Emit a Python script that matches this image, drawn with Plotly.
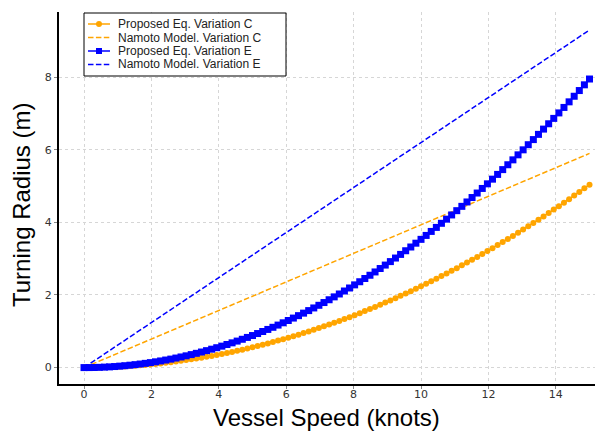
import plotly.graph_objects as go

speed = [0, 0.152, 0.303, 0.455, 0.606, 0.758, 0.909, 1.061, 1.212, 1.364,
         1.515, 1.667, 1.818, 1.970, 2.121, 2.273, 2.424, 2.576, 2.727, 2.879,
         3.030, 3.182, 3.333, 3.485, 3.636, 3.788, 3.939, 4.091, 4.242, 4.394,
         4.545, 4.697, 4.848, 5.000, 5.152, 5.303, 5.455, 5.606, 5.758, 5.909,
         6.061, 6.212, 6.364, 6.515, 6.667, 6.818, 6.970, 7.121, 7.273, 7.424,
         7.576, 7.727, 7.879, 8.030, 8.182, 8.333, 8.485, 8.636, 8.788, 8.939,
         9.091, 9.242, 9.394, 9.545, 9.697, 9.848, 10.000, 10.152, 10.303, 10.455,
         10.606, 10.758, 10.909, 11.061, 11.212, 11.364, 11.515, 11.667, 11.818, 11.970,
         12.121, 12.273, 12.424, 12.576, 12.727, 12.879, 13.030, 13.182, 13.333, 13.485,
         13.636, 13.788, 13.939, 14.091, 14.242, 14.394, 14.545, 14.697, 14.848, 15.000]

proposed_c = [0, 0.001, 0.002, 0.005, 0.008, 0.013, 0.019, 0.025, 0.033, 0.042,
              0.051, 0.062, 0.074, 0.087, 0.101, 0.116, 0.132, 0.149, 0.167, 0.186,
              0.206, 0.227, 0.249, 0.272, 0.296, 0.321, 0.348, 0.375, 0.403, 0.432,
              0.463, 0.494, 0.527, 0.560, 0.594, 0.630, 0.666, 0.704, 0.743, 0.782,
              0.823, 0.864, 0.907, 0.951, 0.996, 1.041, 1.088, 1.136, 1.185, 1.235,
              1.286, 1.338, 1.390, 1.444, 1.500, 1.556, 1.613, 1.671, 1.730, 1.790,
              1.851, 1.913, 1.977, 2.041, 2.106, 2.173, 2.240, 2.308, 2.378, 2.448,
              2.520, 2.592, 2.666, 2.740, 2.816, 2.893, 2.970, 3.049, 3.129, 3.209,
              3.291, 3.374, 3.458, 3.542, 3.628, 3.715, 3.803, 3.892, 3.982, 4.073,
              4.165, 4.258, 4.352, 4.448, 4.544, 4.641, 4.739, 4.838, 4.939, 5.040]

proposed_e = [0, 0.001, 0.003, 0.007, 0.013, 0.020, 0.029, 0.040, 0.052, 0.066,
              0.081, 0.098, 0.117, 0.137, 0.159, 0.183, 0.208, 0.234, 0.263, 0.293,
              0.324, 0.358, 0.393, 0.429, 0.467, 0.507, 0.548, 0.591, 0.636, 0.682,
              0.730, 0.780, 0.831, 0.883, 0.938, 0.994, 1.051, 1.110, 1.171, 1.234,
              1.298, 1.364, 1.431, 1.500, 1.570, 1.643, 1.716, 1.792, 1.869, 1.948,
              2.028, 2.110, 2.193, 2.279, 2.365, 2.454, 2.544, 2.635, 2.729, 2.824,
              2.920, 3.018, 3.118, 3.219, 3.322, 3.427, 3.533, 3.641, 3.751, 3.862,
              3.975, 4.089, 4.205, 4.323, 4.442, 4.563, 4.685, 4.809, 4.935, 5.062,
              5.191, 5.322, 5.454, 5.588, 5.723, 5.861, 5.999, 6.140, 6.281, 6.425,
              6.570, 6.717, 6.865, 7.016, 7.167, 7.321, 7.475, 7.632, 7.790, 7.950]

namoto_speed = [0, 15]
namoto_c = [0, 5.90]
namoto_e = [0, 9.30]

x_ticks = [0, 2, 4, 6, 8, 10, 12, 14]
y_ticks = [0, 2, 4, 6, 8]

legend_labels = ["Proposed Eq. Variation C", "Namoto Model. Variation C",
                 "Proposed Eq. Variation E", "Namoto Model. Variation E"]

ORANGE = "#FFA500"
BLUE = "#0000FF"
DASH = "5.5px,2.4px"
FONT = "Liberation Sans, Arial, sans-serif"
TICKFONT = "DejaVu Sans, sans-serif"

fig = go.Figure()
fig.add_trace(go.Scatter(x=speed, y=proposed_c, mode="lines+markers",
                         name=legend_labels[0],
                         line=dict(color=ORANGE, width=1.5),
                         marker=dict(symbol="circle", size=6, color=ORANGE)))
fig.add_trace(go.Scatter(x=namoto_speed, y=namoto_c, mode="lines",
                         name=legend_labels[1],
                         line=dict(color=ORANGE, width=1.5, dash=DASH)))
fig.add_trace(go.Scatter(x=speed, y=proposed_e, mode="lines+markers",
                         name=legend_labels[2],
                         line=dict(color=BLUE, width=1.5),
                         marker=dict(symbol="square", size=7, color=BLUE)))
fig.add_trace(go.Scatter(x=namoto_speed, y=namoto_e, mode="lines",
                         name=legend_labels[3],
                         line=dict(color=BLUE, width=1.5, dash=DASH)))

# page body has an 8px margin: figure origin is at page (8, 8)
OFF = 8
W, H = 595, 424
L, R, T, B = 51, 0, 4, 48
pw, ph = W - L - R, H - T - B
plot_left_page = OFF + L
plot_bottom_page = OFF + H - B


def px_x(p):
    return (p - plot_left_page) / pw


def px_y(p):
    return (plot_bottom_page - p) / ph


# hand-drawn compact legend (matplotlib-style spacing)
shapes = [dict(type="rect", xref="paper", yref="paper",
               x0=px_x(84), x1=px_x(286), y0=px_y(13), y1=px_y(76),
               line=dict(color="black", width=1), fillcolor="white", layer="above")]
annotations = []
rows = [24, 37.5, 51, 64.5]
styles = [(ORANGE, "solid", "circle"), (ORANGE, DASH, None),
          (BLUE, "solid", "square"), (BLUE, DASH, None)]
for ry, (col, dash, sym), lab in zip(rows, styles, legend_labels):
    shapes.append(dict(type="line", xref="paper", yref="paper",
                       x0=px_x(88), x1=px_x(110), y0=px_y(ry), y1=px_y(ry),
                       line=dict(color=col, width=1.5, dash=dash), layer="above"))
    if sym == "circle":
        shapes.append(dict(type="circle", xref="paper", yref="paper",
                           xsizemode="pixel", ysizemode="pixel",
                           xanchor=px_x(99), yanchor=px_y(ry),
                           x0=-3, x1=3, y0=-3, y1=3,
                           fillcolor=col, line=dict(color=col, width=0), layer="above"))
    elif sym == "square":
        shapes.append(dict(type="rect", xref="paper", yref="paper",
                           xsizemode="pixel", ysizemode="pixel",
                           xanchor=px_x(99), yanchor=px_y(ry),
                           x0=-3, x1=3, y0=-3, y1=3,
                           fillcolor=col, line=dict(color=col, width=0), layer="above"))
    annotations.append(dict(text=lab, xref="paper", yref="paper",
                            x=px_x(116), y=px_y(ry), xanchor="left", yanchor="middle",
                            showarrow=False,
                            font=dict(family=FONT, size=12, color="#222222")))

annotations += [
    dict(text="Vessel Speed (knots)", xref="paper", yref="paper",
         x=px_x(326), y=px_y(418), xanchor="center", yanchor="middle",
         showarrow=False, font=dict(family=FONT, size=24, color="black")),
    dict(text="Turning Radius (m)", xref="paper", yref="paper",
         x=px_x(21), y=px_y(205), xanchor="center", yanchor="middle",
         textangle=-90, showarrow=False, font=dict(family=FONT, size=24, color="black")),
]

fig.update_layout(
    width=W, height=H,
    margin=dict(l=L, r=R, t=T, b=B, pad=0),
    paper_bgcolor="white", plot_bgcolor="white",
    font=dict(family=FONT, color="#333333", size=12),
    showlegend=False,
    xaxis=dict(range=[-0.742, 15.40], tickvals=x_ticks, ticktext=[str(v) for v in x_ticks],
               showgrid=True, gridcolor="#d6d6d6", gridwidth=1, griddash="dot",
               zeroline=False, showline=True, linecolor="black", linewidth=2,
               ticks="outside", ticklen=3, tickcolor="#888888",
               ticklabelstandoff=-4,
               tickfont=dict(family=TICKFONT, size=11, color="#333333")),
    yaxis=dict(range=[-0.452, 9.796], tickvals=y_ticks, ticktext=[str(v) for v in y_ticks],
               showgrid=True, gridcolor="#d6d6d6", gridwidth=1, griddash="dot",
               zeroline=False, showline=True, linecolor="black", linewidth=2,
               ticks="outside", ticklen=3, tickcolor="#888888",
               tickfont=dict(family=TICKFONT, size=11, color="#333333")),
    shapes=shapes,
    annotations=annotations,
)

fig.write_html("out.html")
